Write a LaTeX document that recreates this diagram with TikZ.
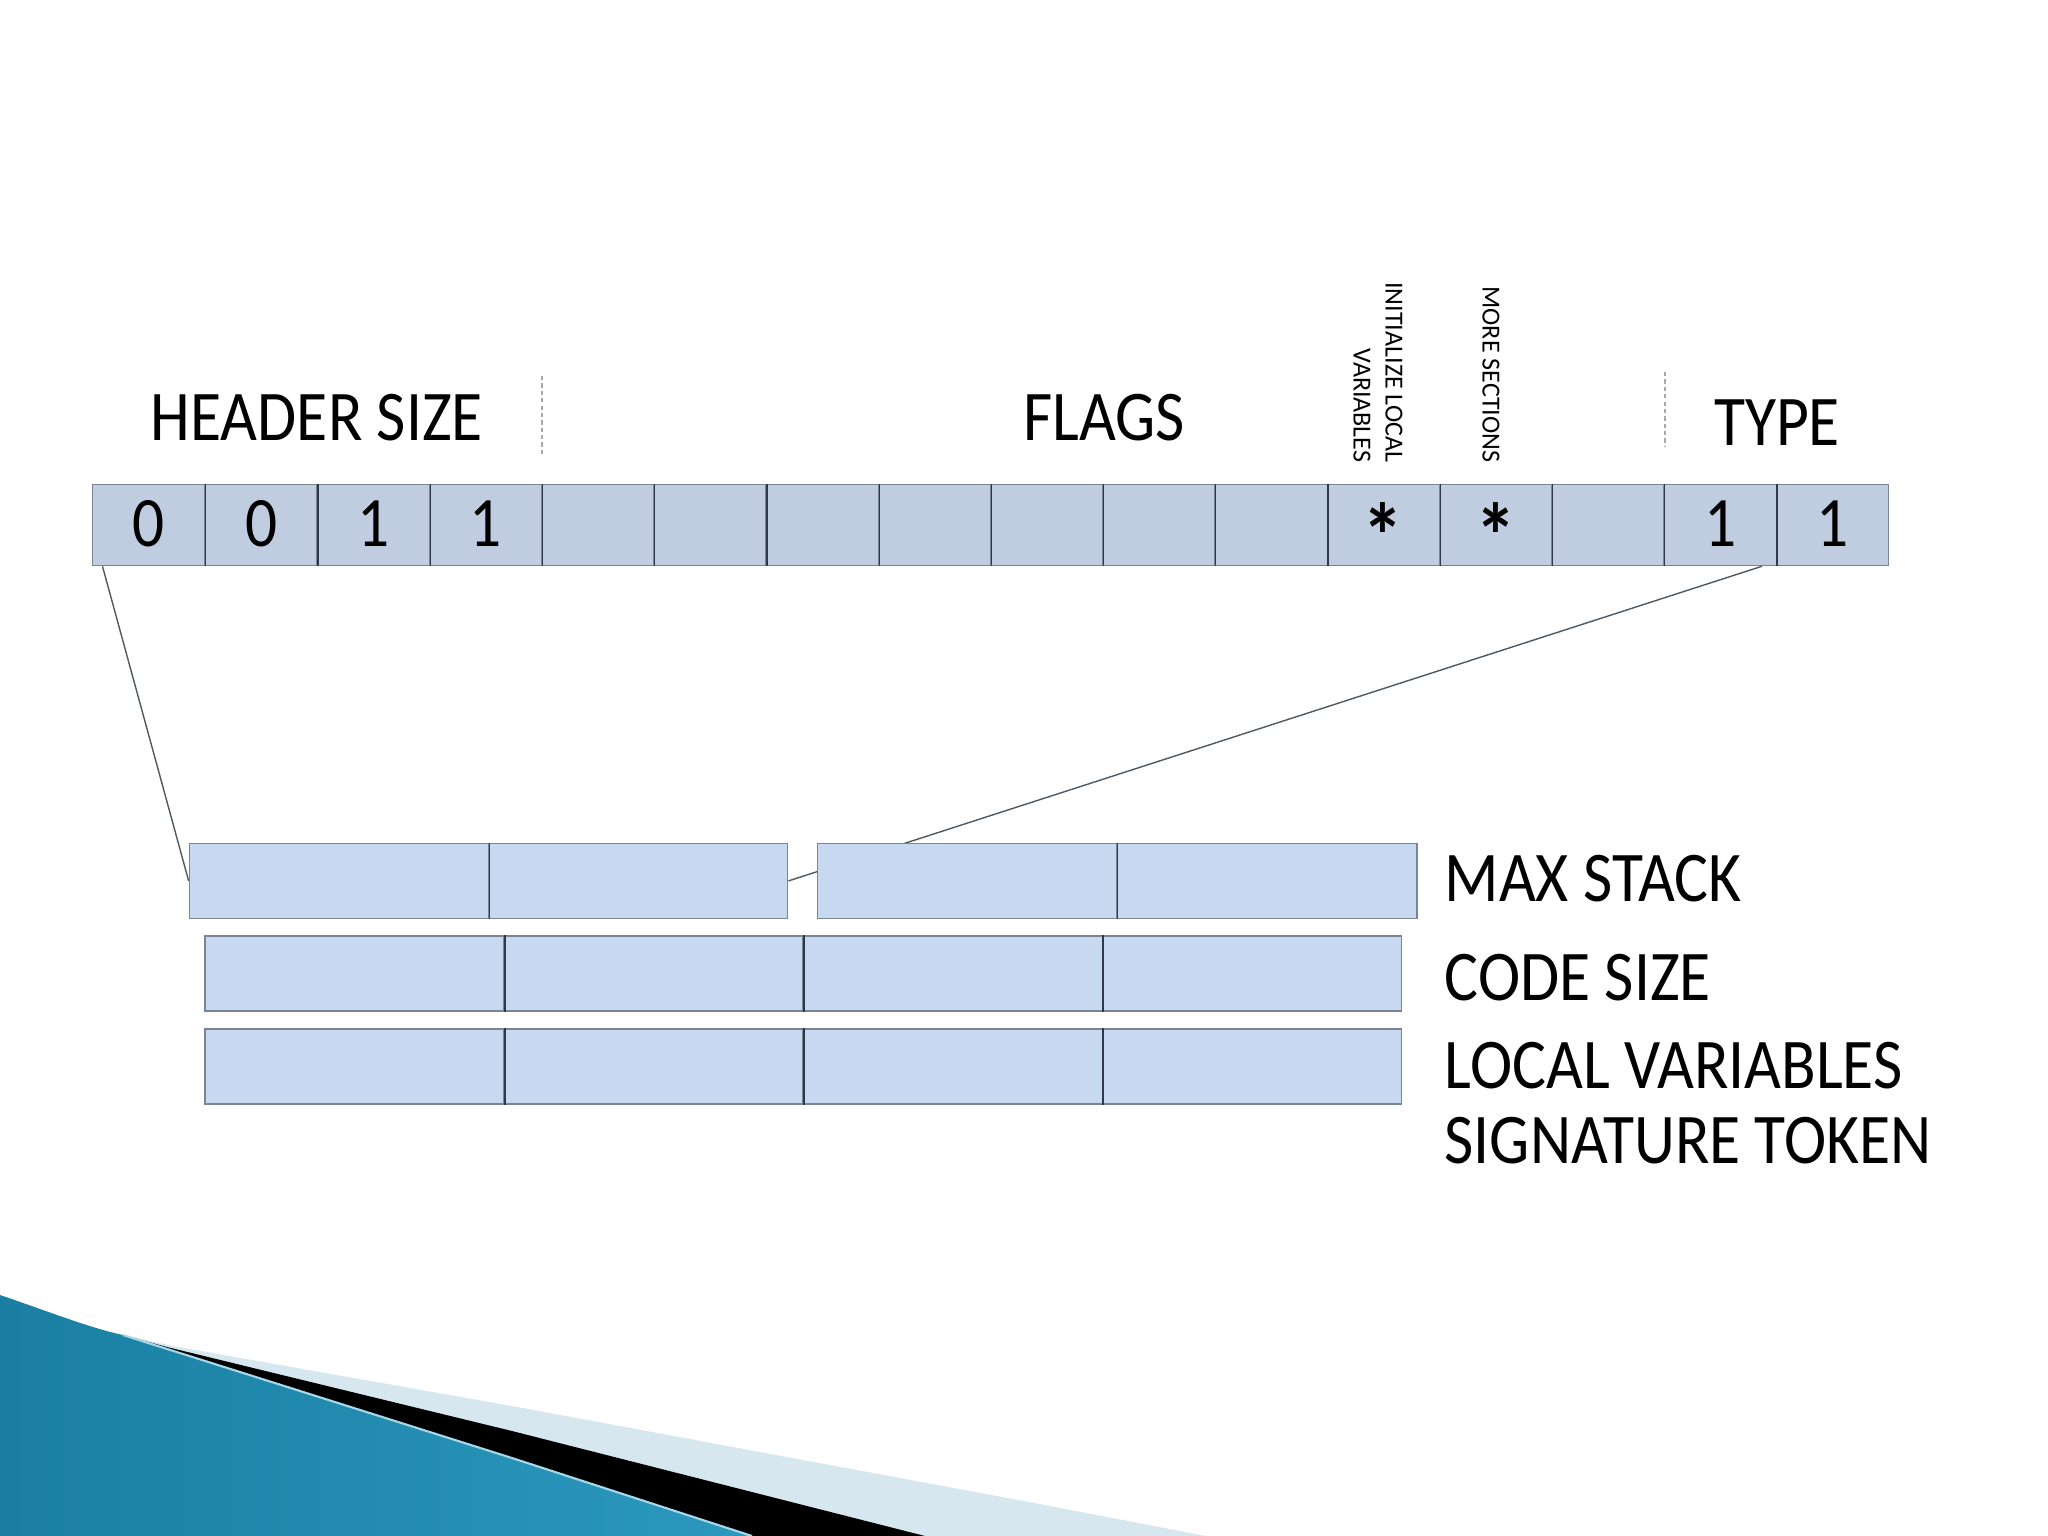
\documentclass[tikz,border=0pt]{standalone}
\usepackage{fontspec}
\setmainfont{Carlito}
\usepackage{graphicx}
\usetikzlibrary{calc}
\definecolor{topfill}{HTML}{C0CDE1}
\definecolor{lowfill}{HTML}{C6D9F0}
\definecolor{rim}{HTML}{7A8594}
\definecolor{divc}{HTML}{2E3846}
\definecolor{linkc}{HTML}{505860}
\definecolor{sepc}{HTML}{A8A8A8}
\definecolor{bandc}{HTML}{D7E7F0}
\definecolor{bluedark}{HTML}{1A7FA2}
\definecolor{bluelight}{HTML}{50B6D9}
\definecolor{bluemid}{HTML}{2C98BE}
\definecolor{paleedge}{HTML}{A6D8EA}
\newcommand{\vstr}[1]{\scalebox{1}[1.12]{#1}}
\newcommand{\astx}{\raisebox{-5.8pt}{\scalebox{1.3}{\textbf{*}}}}
\pgfdeclarelayer{bg}
\pgfsetlayers{bg,main}
\tikzset{
 big/.style={font=\fontsize{18.1}{21}\selectfont, inner sep=0pt},
 small/.style={font=\fontsize{7.4}{9.1}\selectfont, inner sep=0pt, rotate=-90, align=right, anchor=east},
 topcell/.style={draw=rim, fill=topfill, line width=0.4pt, minimum width=1.1224cm, minimum height=0.81cm, inner sep=0pt, text height=0.42cm, text depth=0pt, font=\fontsize{18}{21}\selectfont},
 lowcell/.style={draw=rim, fill=lowfill, line width=0.4pt, minimum width=2.991cm, minimum height=0.747cm, inner sep=0pt},
 divider/.style={draw=divc, line width=0.35pt},
 link/.style={draw=linkc, line width=0.4pt},
 sepline/.style={draw=sepc, line width=0.35pt, dash pattern=on 1.2pt off 0.9pt},
}
\begin{document}
\begin{tikzpicture}[x=0.01cm, y=-0.01cm]
\useasboundingbox (0,0) rectangle (2048,1536);

% bottom-left swoosh
\begin{pgfonlayer}{bg}
\fill[bandc] (123,1335) -- (173,1346) -- (512,1406) -- (1024,1501) -- (1206,1536) -- (0,1536) -- cycle;
\fill[black] (123,1335) -- (167,1347) -- (512,1431) -- (925,1536) -- (0,1536) -- cycle;
\shade[left color=bluedark, middle color=bluelight, right color=bluemid] (0,1295) .. controls (50,1312) and (90,1328) .. (123,1335) -- (512,1458) -- (752,1536) -- (0,1536) -- cycle;
\draw[paleedge, line width=0.6pt] (123,1335) -- (512,1458) -- (752,1536);
\end{pgfonlayer}

% top row of 16 bits
\foreach \i/\t in {1/0,2/0,3/1,4/1,5/,6/,7/,8/,9/,10/,11/,12/\astx,13/\astx,14/,15/1,16/1}
  \node[topcell] (c\i) at ({92.7+112.24*(\i-0.5)},525) {\vstr{\t}};
\foreach \i in {1,...,15}
  \draw[divider] (c\i.north east) -- (c\i.south east);

% labels above
\node[big, anchor=base] (hs) at (317,440) {\vstr{HEADER SIZE}};
\node[big, anchor=base] (fl) at (1104,440) {\vstr{FLAGS}};
\node[big, anchor=base] (ty) at (1777,445) {\vstr{TYPE}};
\node[small] (ilv) at (1378,463) {INITIALIZE LOCAL\\VARIABLES};
\node[small] (ms) at (1491,463) {MORE SECTIONS};

\coordinate (s1a) at (542,376);
\coordinate (s1b) at (542,455);
\coordinate (s2a) at (1665,372);
\coordinate (s2b) at (1665,447);
\draw[sepline] (s1a) -- (s1b);
\draw[sepline] (s2a) -- (s2b);

% lower rows
\node[lowcell] (a1) at (339,880.9) {};
\node[lowcell] (a2) at (638.1,880.9) {};
\node[lowcell] (b1) at (967.4,880.9) {};
\node[lowcell] (b2) at (1267.2,880.9) {};
\draw[divider] (a1.north east) -- (a1.south east);
\draw[divider] (b1.north east) -- (b1.south east);
\foreach \i in {1,2,3,4} {
  \node[lowcell] (d\i) at ({205+299.1*(\i-0.5)},973.5) {};
  \node[lowcell] (e\i) at ({205+299.1*(\i-0.5)},1066.5) {};
}
\foreach \i in {1,2,3} {
  \draw[divider] (d\i.north east) -- (d\i.south east);
  \draw[divider] (e\i.north east) -- (e\i.south east);
}

\node[big, anchor=base west] (lms) at (1444,901) {\vstr{MAX STACK}};
\node[big, anchor=base west] (lcs) at (1444,1000.5) {\vstr{CODE SIZE}};
\node[big, anchor=base west] (llv) at (1444,1088) {\vstr{LOCAL VARIABLES}};
\node[big, anchor=base west] (lst) at (1444,1163.5) {\vstr{SIGNATURE TOKEN}};

% zoom connectors (behind boxes)
\coordinate (t1) at ($(c1.south west)+(10.5,0)$);
\coordinate (t2) at ($(c15.south east)+(-15,0)$);
\begin{pgfonlayer}{bg}
\draw[link] (t1) -- (a1.west);
\draw[link] (t2) -- (a2.east);
\end{pgfonlayer}
\end{tikzpicture}
\end{document}
